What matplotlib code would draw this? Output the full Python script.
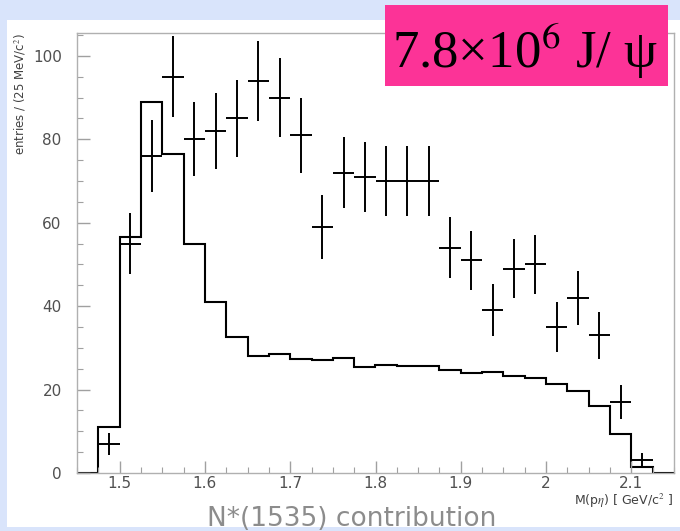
import matplotlib
matplotlib.use("Agg")
import matplotlib.pyplot as plt
from matplotlib.patches import Rectangle
from matplotlib.ticker import MultipleLocator, FixedLocator
import numpy as np

# Bordes de los bins (25 MeV) y contenido del histograma N*(1535)
bordes = np.arange(1.45, 2.15 + 1e-9, 0.025)
contribucion = [0, 11, 56.5, 89, 76.5, 55, 41, 32.5, 28, 28.5, 27.3, 27, 27.5,
                25.4, 25.9, 25.7, 25.7, 24.7, 24.0, 24.2, 23.3, 22.7, 21.3,
                19.7, 16.1, 9.3, 1.4, 0]

# Datos con barras de error
x_datos = [1.4875, 1.5125, 1.5375, 1.5625, 1.5875, 1.6125, 1.6375, 1.6625,
           1.6875, 1.7125, 1.7375, 1.7625, 1.7875, 1.8125, 1.8375, 1.8625,
           1.8875, 1.9125, 1.9375, 1.9625, 1.9875, 2.0125, 2.0375, 2.0625,
           2.0875, 2.1125]
y_datos = [7, 55, 76, 95, 80, 82, 85, 94, 90, 81, 59, 72, 71, 70, 70, 70,
           54, 51, 39, 49, 50, 35, 42, 33, 17, 3]
err_datos = [2.6, 7.4, 8.7, 9.7, 8.9, 9.1, 9.2, 9.7, 9.5, 9.0, 7.7, 8.5, 8.4,
             8.4, 8.4, 8.4, 7.3, 7.1, 6.2, 7.0, 7.1, 5.9, 6.5, 5.7, 4.1, 1.7]

x_ticks = [1.5, 1.6, 1.7, 1.8, 1.9, 2.0, 2.1]
x_ticklabels = ["1.5", "1.6", "1.7", "1.8", "1.9", "2", "2.1"]
y_ticks = [0, 20, 40, 60, 80, 100]

plt.rcParams["mathtext.fontset"] = "stix"

fig = plt.figure(figsize=(6.8, 5.31), dpi=100)
fig.patch.set_facecolor("#d9e4fb")

# Zona blanca de la diapositiva
fig.patches.append(Rectangle((7 / 680, 1 - 527 / 531), 1, (527 - 20) / 531,
                             transform=fig.transFigure, facecolor="white",
                             edgecolor="none", zorder=-10))

ax = fig.add_axes([77 / 680, 1 - 473 / 531, (674 - 77) / 680, (473 - 33) / 531])
ax.set_facecolor("white")

ax.stairs(contribucion, bordes, color="black", linewidth=1.5)
ax.errorbar(x_datos, y_datos, yerr=err_datos, xerr=0.0125, fmt="none",
            ecolor="black", elinewidth=1.4, capsize=0)

ax.set_xlim(1.45, 2.15)
ax.set_ylim(0, 105.5)

ax.xaxis.set_major_locator(FixedLocator(x_ticks))
ax.set_xticklabels(x_ticklabels)
ax.xaxis.set_minor_locator(MultipleLocator(0.025))
ax.yaxis.set_major_locator(FixedLocator(y_ticks))
ax.yaxis.set_minor_locator(MultipleLocator(5))

ax.tick_params(which="both", direction="in", colors="#a0a0a0",
               labelcolor="#505050", labelsize=11, top=False, right=False)
ax.tick_params(which="major", length=9, width=1)
ax.tick_params(which="minor", length=4.5, width=0.8)
ax.tick_params(axis="y", pad=11)
ax.tick_params(axis="x", pad=2.5)

for lado in ["left", "bottom", "top", "right"]:
    ax.spines[lado].set_color("#b0b0b0")
    ax.spines[lado].set_linewidth(1)

fig.text(20 / 680, 1 - 94 / 531, "entries / (25 MeV/c$^2$)", rotation=90,
         ha="center", va="center", fontsize=8.5, color="#404040")
fig.text(673 / 680, 1 - 501 / 531, r"M(p$\eta$) [ GeV/c$^2$ ]",
         ha="right", va="center", fontsize=9, color="#404040")
fig.text(352 / 680, 1 - 526 / 531, "N*(1535) contribution", ha="center",
         va="baseline", fontsize=19, color="#8c8c8c")

# Caja magenta con el numero de eventos
fig.patches.append(Rectangle((385 / 680, 1 - 86 / 531), (668 - 385) / 680,
                             (86 - 5) / 531, transform=fig.transFigure,
                             facecolor="#fc3397", edgecolor="none", zorder=3))
fig.text(525 / 680, 1 - 68 / 531, "7.8\u00d710$^{6}$ J/ \u03c8",
         ha="center", va="baseline", fontsize=38, color="black",
         family="Liberation Serif", zorder=4)

fig.savefig("out.png", dpi=100, facecolor=fig.get_facecolor())
